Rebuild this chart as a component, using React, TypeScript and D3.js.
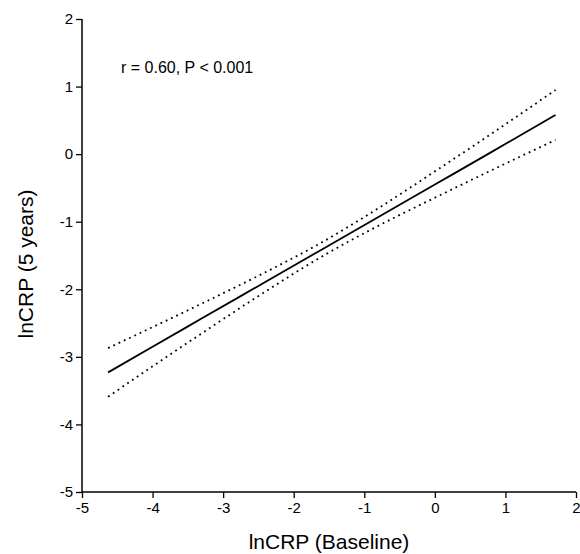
import React, { useRef, useEffect } from 'react'
import * as d3 from 'd3'

// regression line and 95% confidence band
const xValues = [-4.63, -4, -3.3, -2.5, -1.6, -0.8, 0, 0.8, 1.71]
const fitValues = [-3.23, -2.85, -2.43, -1.95, -1.41, -0.93, -0.45, 0.03, 0.58]
const upperValues = [-2.87, -2.56, -2.21, -1.8, -1.305, -0.8, -0.255, 0.3, 0.95]
const lowerValues = [-3.59, -3.14, -2.65, -2.1, -1.515, -1.06, -0.645, -0.24, 0.21]

const xTicks = [-5, -4, -3, -2, -1, 0, 1, 2]
const yTicks = [-5, -4, -3, -2, -1, 0, 1, 2]

const width = 580
const height = 554
const margin = { top: 19, right: 4, bottom: 62, left: 82 }

const App = () => {
  const svgRef = useRef(null)

  useEffect(() => {
    const svg = d3.select(svgRef.current)
    svg.selectAll('*').remove()

    const x = d3.scaleLinear().domain([-5, 2]).range([margin.left, width - margin.right])
    const y = d3.scaleLinear().domain([-5, 2]).range([height - margin.bottom, margin.top])

    const font = 'Arial, "Liberation Sans", sans-serif'
    const fmt = d => String(d)

    // x axis
    const xAxis = svg.append('g')
      .attr('transform', `translate(0,${y(-5)})`)
      .call(d3.axisBottom(x).tickValues(xTicks).tickSize(6).tickPadding(4).tickFormat(fmt))
    xAxis.select('.domain').attr('stroke', '#000').attr('stroke-width', 1.5).attr('d', `M${x(-5)},0H${x(2)}`)
    xAxis.selectAll('.tick line').attr('stroke', '#000').attr('stroke-width', 1.3)
    xAxis.selectAll('.tick text').attr('font-family', font).attr('font-size', 15).attr('fill', '#000')

    // y axis
    const yAxis = svg.append('g')
      .attr('transform', `translate(${x(-5)},0)`)
      .call(d3.axisLeft(y).tickValues(yTicks).tickSize(6).tickPadding(3).tickFormat(fmt))
    yAxis.select('.domain').attr('stroke', '#000').attr('stroke-width', 1.5).attr('d', `M0,${y(2)}V${y(-5)}`)
    yAxis.selectAll('.tick line').attr('stroke', '#000').attr('stroke-width', 1.3)
    yAxis.selectAll('.tick text').attr('font-family', font).attr('font-size', 15).attr('fill', '#000')

    const line = (vals) => d3.line()
      .x((d, i) => x(xValues[i]))
      .y(d => y(d))
      .curve(d3.curveMonotoneX)(vals)

    svg.append('path')
      .attr('d', line(upperValues))
      .attr('fill', 'none')
      .attr('stroke', '#000')
      .attr('stroke-width', 1.8)
      .attr('stroke-dasharray', '1.8,4')

    svg.append('path')
      .attr('d', line(lowerValues))
      .attr('fill', 'none')
      .attr('stroke', '#000')
      .attr('stroke-width', 1.8)
      .attr('stroke-dasharray', '1.8,4')

    svg.append('path')
      .attr('d', line(fitValues))
      .attr('fill', 'none')
      .attr('stroke', '#000')
      .attr('stroke-width', 1.8)

    // annotation
    svg.append('text')
      .attr('x', 121)
      .attr('y', 73)
      .attr('font-family', font)
      .attr('font-size', 16)
      .text('r = 0.60, P < 0.001')

    // axis titles
    svg.append('text')
      .attr('x', (x(-5) + x(2)) / 2)
      .attr('y', 549)
      .attr('text-anchor', 'middle')
      .attr('font-family', font)
      .attr('font-size', 21)
      .text('lnCRP (Baseline)')

    svg.append('text')
      .attr('transform', `translate(33,264) rotate(-90)`)
      .attr('text-anchor', 'middle')
      .attr('font-family', font)
      .attr('font-size', 21)
      .text('lnCRP (5 years)')
  }, [])

  return (
    <svg
      ref={svgRef}
      width={width}
      height={height}
      style={{ position: 'absolute', left: 0, top: 0, background: 'white' }}
    />
  )
}

export default App
